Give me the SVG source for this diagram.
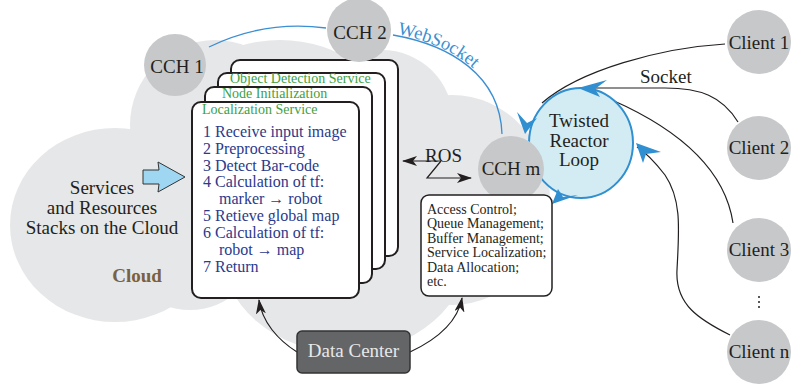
<svg xmlns="http://www.w3.org/2000/svg" width="793" height="387" viewBox="0 0 793 387">
<defs>
<style>
.cloud{fill:#e6e7e8}
.cch{fill:#c7c8ca}
.t{font-family:"Liberation Serif","Times New Roman",serif;fill:#231f20}
.lbl{font-size:19px}
.grn{font-family:"Liberation Serif",serif;font-size:14px;fill:#3ea043}
.nav{font-family:"Liberation Serif",serif;font-size:16px;fill:#2b3a8c}
.info{font-size:14px}
.svc{fill:#fff;stroke:#231f20;stroke-width:2}
.blk{fill:none;stroke:#231f20;stroke-width:1.2}
.ws{fill:none;stroke:#3b8fd3;stroke-width:1.3}
.bh{fill:#2f8fd0}
</style>
<marker id="ah" viewBox="0 0 15 10" refX="14" refY="5" markerWidth="15" markerHeight="10" orient="auto" markerUnits="userSpaceOnUse">
<path d="M0,0 L15,5 L0,10 L4,5 z" fill="#231f20"/>
</marker>
<path id="wsPath" d="M393,35 C450,45 500,75 502,134"/>
</defs>

<g id="cloud">
<ellipse class="cloud" cx="115" cy="225" rx="105" ry="97"/>
<circle class="cloud" cx="215" cy="125" r="85"/>
<ellipse class="cloud" cx="280" cy="125" rx="110" ry="85"/>
<circle class="cloud" cx="382" cy="121" r="71"/>
<ellipse class="cloud" cx="452" cy="200" rx="98" ry="105"/>
<ellipse class="cloud" cx="345" cy="245" rx="125" ry="108"/>
<circle class="cloud" cx="190" cy="240" r="70"/>
<ellipse class="cloud" cx="300" cy="190" rx="150" ry="110"/>
<text class="t lbl" x="102" y="194" text-anchor="middle">Services</text>
<text class="t lbl" x="102" y="214" text-anchor="middle">and Resources</text>
<text class="t lbl" x="102" y="234" text-anchor="middle">Stacks on the Cloud</text>
<text x="137" y="282" text-anchor="middle" font-family="Liberation Serif,serif" font-weight="bold" font-size="19" fill="#7a6141">Cloud</text>
<polygon points="143,170 159,170 158,162 185,177 158,192 159,184 143,184" fill="#9fd6f2" stroke="#333" stroke-width="1"/>
</g>

<g id="connectors">
<path class="ws" d="M209,47 Q264,20 326,28"/>
<use href="#wsPath" class="ws"/>
<text font-family="Liberation Serif,serif" font-size="18.5" fill="#3b8fd3" dy="-1.5"><textPath href="#wsPath" startOffset="4">WebSocket</textPath></text>
<path class="blk" d="M441,161 L403,161" marker-end="url(#ah)"/>
<path class="blk" d="M441,161 L427,178 L471,178" marker-end="url(#ah)"/>
<text class="t lbl" x="425" y="162">ROS</text>
<path class="blk" d="M297,352 C278,340 262,322 259,300" marker-end="url(#ah)"/>
<path class="blk" d="M410,352 C440,338 458,320 462,298" marker-end="url(#ah)"/>
<path class="blk" d="M725,44 C660,48 580,70 542,103"/>
<path class="blk" d="M738,122 C722,96 700,88 665,88 L587,88"/>
<path class="blk" d="M733,223 C725,170 680,130 612,100"/>
<path class="blk" d="M730,335 C700,320 675,305 677,270 C679,230 682,200 665,175 C655,162 645,152 637,147"/>
<text class="t lbl" x="640" y="83">Socket</text>
</g>

<g id="services">
<rect class="svc" x="231" y="60" width="167" height="196" rx="9"/>
<rect class="svc" x="218" y="73" width="167" height="196" rx="9"/>
<text class="grn" x="230" y="83">Object Detection Service</text>
<rect class="svc" x="205" y="87" width="167" height="196" rx="9"/>
<text class="grn" x="222" y="98">Node Initialization</text>
<rect class="svc" x="192" y="102" width="167" height="196" rx="9"/>
<text class="grn" x="202" y="114">Localization Service</text>
<text class="nav" x="203" y="137">1 Receive input image</text>
<text class="nav" x="203" y="154">2 Preprocessing</text>
<text class="nav" x="203" y="171">3 Detect Bar-code</text>
<text class="nav" x="203" y="187">4 Calculation of tf:</text>
<text class="nav" x="219" y="204">marker → robot</text>
<text class="nav" x="203" y="221">5 Retieve global map</text>
<text class="nav" x="203" y="238">6 Calculation of tf:</text>
<text class="nav" x="219" y="255">robot → map</text>
<text class="nav" x="203" y="272">7 Return</text>
</g>

<g id="cch1">
<circle class="cch" cx="175" cy="65" r="31"/>
<text class="t lbl" x="177" y="73" text-anchor="middle">CCH 1</text>
</g>
<g id="cch2">
<circle class="cch" cx="359" cy="30" r="32"/>
<text class="t lbl" x="360" y="39" text-anchor="middle">CCH 2</text>
</g>

<g id="reactor">
<ellipse cx="581" cy="143" rx="52" ry="55" fill="#d3ecf3" stroke="#2f8fd0" stroke-width="2"/>
<polygon class="bh" points="578,88 607,80 595,89 600,97"/>
<polygon class="bh" points="517,112 527,123 537,118 525,134"/>
<polygon class="bh" points="552,204 558,189 563,197 578,195"/>
<polygon class="bh" points="636,143 661,152 646,154 643,163"/>
<text class="t lbl" x="579" y="127" text-anchor="middle">Twisted</text>
<text class="t lbl" x="579" y="147" text-anchor="middle">Reactor</text>
<text class="t lbl" x="579" y="166" text-anchor="middle">Loop</text>
</g>

<g id="cchm">
<circle class="cch" cx="511" cy="169" r="33"/>
<text class="t lbl" x="511" y="175" text-anchor="middle">CCH m</text>
</g>

<g id="info">
<rect x="421" y="195" width="131" height="101" rx="8" fill="#fff" stroke="#231f20" stroke-width="1.5"/>
<text class="t info" x="427" y="214">Access Control;</text>
<text class="t info" x="427" y="228">Queue Management;</text>
<text class="t info" x="427" y="243">Buffer Management;</text>
<text class="t info" x="427" y="257">Service Localization;</text>
<text class="t info" x="427" y="272">Data Allocation;</text>
<text class="t info" x="427" y="286">etc.</text>
</g>

<g id="datacenter">
<rect x="297" y="331" width="113" height="42" rx="5" fill="#646567" stroke="#333" stroke-width="1.5"/>
<text x="353.5" y="357" text-anchor="middle" font-family="Liberation Serif,serif" font-size="19" fill="#e8e8e8">Data Center</text>
</g>

<g id="client1">
<circle class="cch" cx="759" cy="42" r="32"/>
<text class="t lbl" x="759" y="49" text-anchor="middle">Client 1</text>
</g>
<g id="client2">
<circle class="cch" cx="759" cy="148" r="32"/>
<text class="t lbl" x="759" y="154" text-anchor="middle">Client 2</text>
</g>
<g id="client3">
<circle class="cch" cx="759" cy="250" r="32"/>
<text class="t lbl" x="759" y="256" text-anchor="middle">Client 3</text>
</g>
<g id="dots">
<circle cx="759" cy="297" r="1" fill="#231f20"/>
<circle cx="759" cy="302" r="1" fill="#231f20"/>
<circle cx="759" cy="307" r="1" fill="#231f20"/>
</g>
<g id="clientn">
<circle class="cch" cx="759" cy="352" r="32"/>
<text class="t lbl" x="759" y="358" text-anchor="middle">Client n</text>
</g>
</svg>
